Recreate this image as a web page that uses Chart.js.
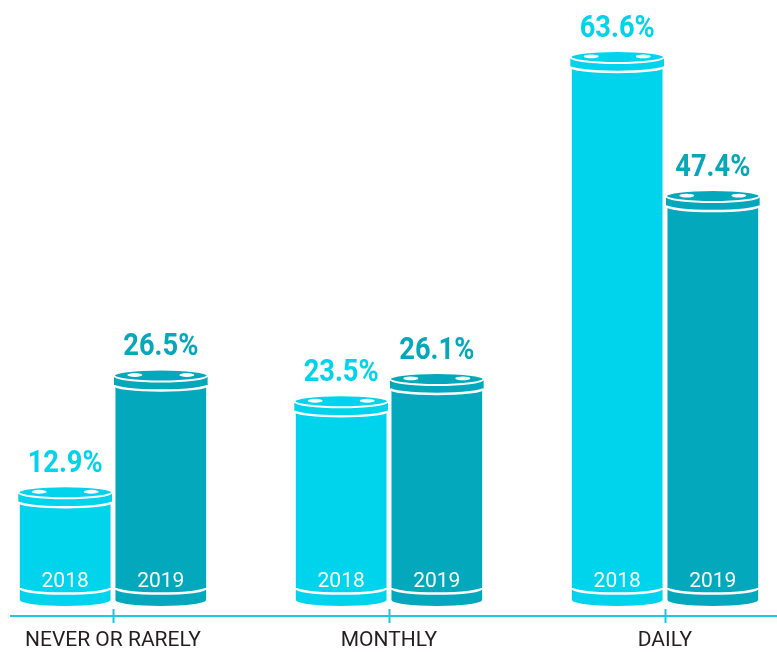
<!DOCTYPE html>
<html>
<head>
<meta charset="utf-8">
<script src="https://cdn.jsdelivr.net/npm/chart.js@4.4.0/dist/chart.umd.min.js"></script>
<style>
  html, body { margin: 0; padding: 0; background: #fff; }
  #wrap { width: 777px; height: 652px; position: relative; }
</style>
</head>
<body>
<div id="wrap"><canvas id="chart"></canvas></div>
<script>
const categories = ['NEVER OR RARELY', 'MONTHLY', 'DAILY'];
const years = ['2018', '2019'];
const values2018 = [12.9, 23.5, 63.6];
const values2019 = [26.5, 26.1, 47.4];

const barColors = ['#00d3ec', '#04a8bc'];
const textColors = ['#00d3ec', '#06a7bb'];
const axisColor = '#1fc6e0';

// each bar is painted as a cylinder on top of the (transparent) bar element
function drawCylinder(ctx, x, top, base, w, color) {
    const rx = w / 2, ry = 6;
    const bottom = base - 3;
    const lid = 9.5;
    ctx.save();
    ctx.fillStyle = color;
    // body + bottom cap
    ctx.fillRect(x - rx, top, w, bottom - top);
    ctx.beginPath();
    ctx.ellipse(x, bottom, rx, 6, 0, 0, Math.PI * 2);
    ctx.fill();
    // lid, slightly wider
    ctx.fillRect(x - rx - 1.5, top, w + 3, lid);
    ctx.beginPath();
    ctx.ellipse(x, top + lid, rx + 1.5, 5.5, 0, 0, Math.PI * 2);
    ctx.fill();
    ctx.beginPath();
    ctx.ellipse(x, top, rx + 1.5, ry, 0, 0, Math.PI * 2);
    ctx.fill();

    ctx.strokeStyle = '#ffffff';
    ctx.lineWidth = 2;
    ctx.beginPath();
    ctx.ellipse(x, top, rx + 1.5, ry, 0, 0, Math.PI * 2);
    ctx.stroke();
    ctx.lineWidth = 2.5;
    ctx.beginPath();
    ctx.ellipse(x, top + lid, rx + 1.5, 5.5, 0, 0, Math.PI);
    ctx.stroke();
    ctx.beginPath();
    ctx.ellipse(x, bottom - 12, rx, 5.5, 0, 0, Math.PI);
    ctx.stroke();

    // two small holes on the lid
    ctx.fillStyle = '#ffffff';
    [-26, 26].forEach(function (dx) {
        ctx.beginPath();
        ctx.ellipse(x + dx, top - 0.5, 7.5, 1.9, 0, 0, Math.PI * 2);
        ctx.fill();
    });
    ctx.restore();
}

const cylinderPlugin = {
    id: 'cylinders',
    afterDatasetsDraw(chart) {
        const ctx = chart.ctx;
        const xScale = chart.scales.x;

        // baseline with tick marks
        ctx.save();
        ctx.strokeStyle = axisColor;
        ctx.lineWidth = 2;
        ctx.beginPath();
        ctx.moveTo(10, 616);
        ctx.lineTo(chart.width, 616);
        categories.forEach(function (c, i) {
            const px = Math.round(xScale.getPixelForValue(i)) + 0.5;
            ctx.moveTo(px, 609);
            ctx.lineTo(px, 623);
        });
        ctx.stroke();
        ctx.restore();

        chart.data.datasets.forEach(function (ds, di) {
            const meta = chart.getDatasetMeta(di);
            meta.data.forEach(function (bar, i) {
                const p = bar.getProps(['x', 'y', 'base', 'width'], true);
                drawCylinder(ctx, p.x, p.y, p.base, p.width, barColors[di]);

                ctx.save();
                ctx.textAlign = 'center';
                ctx.textBaseline = 'alphabetic';
                ctx.fillStyle = '#ffffff';
                ctx.font = '21px Roboto';
                ctx.fillText(years[di], p.x, p.base - 16);

                // value label, narrowed a little to look condensed
                ctx.translate(p.x, p.y - 20);
                ctx.scale(0.88, 1);
                ctx.fillStyle = textColors[di];
                ctx.font = 'bold 31px Roboto';
                ctx.fillText(ds.data[i].toFixed(1) + '%', 0, 0);
                ctx.restore();
            });
        });
    }
};

new Chart(document.getElementById('chart'), {
    type: 'bar',
    data: {
        labels: categories,
        datasets: [{
            label: years[0],
            data: values2018,
            backgroundColor: 'rgba(0,0,0,0)'
        },
        {
            label: years[1],
            data: values2019,
            backgroundColor: 'rgba(0,0,0,0)'
        }]
    },
    options: {
        responsive: true,
        maintainAspectRatio: false,
        animation: false,
        categoryPercentage: 0.693,
        barPercentage: 0.948,
        clip: false,
        layout: {
            padding: { top: 2, left: 111, right: 112, bottom: 0 }
        },
        scales: {
            x: {
                offset: false,
                grid: { display: false, drawTicks: false },
                border: { display: false },
                ticks: {
                    padding: 25,
                    color: '#231f20',
                    font: { family: 'Roboto', size: 21 },
                    maxRotation: 0
                },
                afterFit(scale) {
                    scale.height = 49;
                }
            },
            y: {
                display: false,
                min: 0,
                max: 70
            }
        },
        plugins: {
            legend: { display: false },
            tooltip: { enabled: false }
        }
    },
    plugins: [cylinderPlugin]
});
</script>
</body>
</html>
